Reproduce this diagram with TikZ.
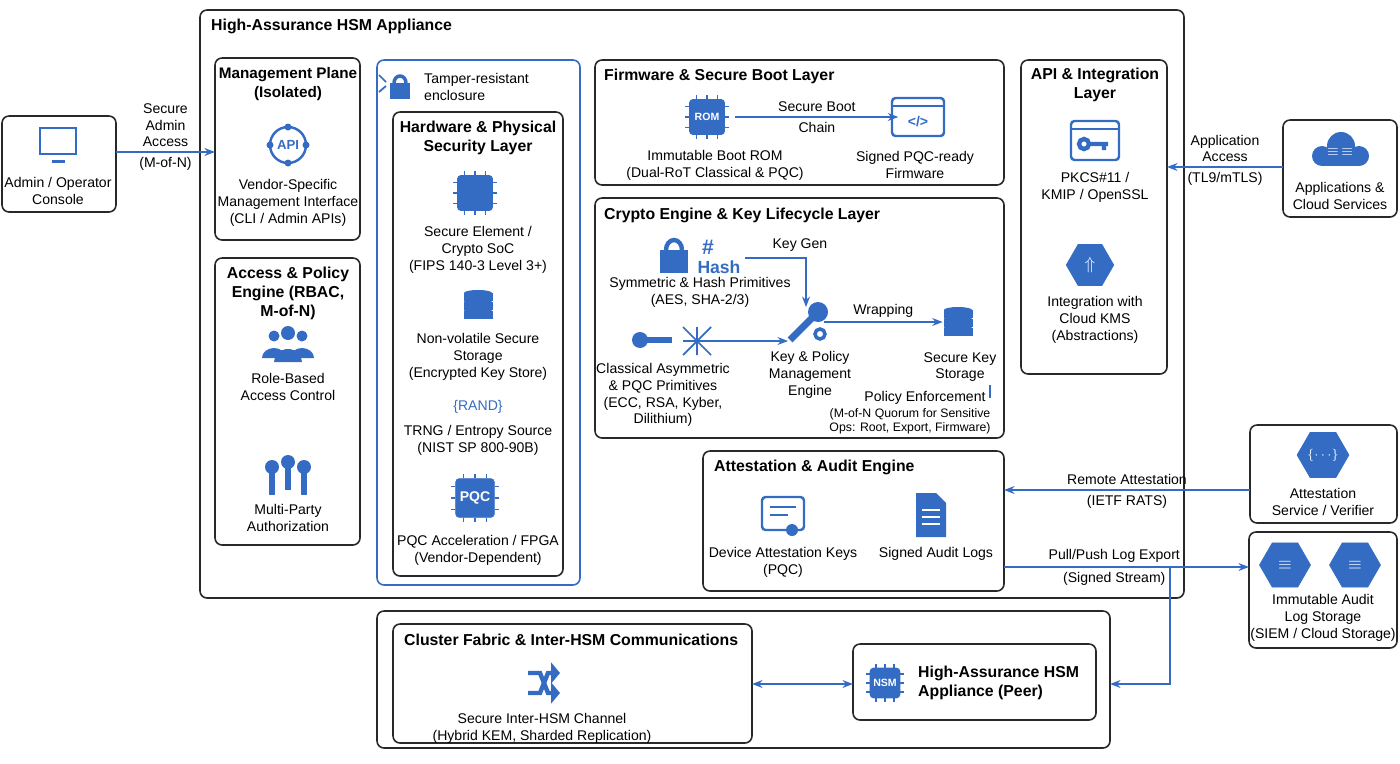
\documentclass[tikz,border=0pt]{standalone}
\usepackage{fontspec}
\setmainfont{Liberation Sans}
\usetikzlibrary{arrows.meta,positioning,shapes.geometric,calc}
\definecolor{hsmblue}{RGB}{52,108,196}
\definecolor{hsmline}{RGB}{40,40,40}
\tikzset{
  box/.style={draw=hsmline,line width=0.9pt,rounded corners=4pt},
  ttl/.style={font=\bfseries\fontsize{9}{10.8}\selectfont,align=center},
  txt/.style={font=\fontsize{8}{9.6}\selectfont,align=center},
  sml/.style={font=\fontsize{7}{8}\selectfont,align=center},
  ic/.style={fill=hsmblue,draw=hsmblue},
  icw/.style={draw=hsmblue,line width=1.4pt},
  hex/.style={regular polygon,regular polygon sides=6,ic,inner sep=0,text=white},
  link/.style={draw=hsmblue,line width=0.9pt,-{Stealth[length=6pt]}},
}
% chip icon
\newcommand{\chipicon}[3]{%
  \node[ic,minimum size=#3,rounded corners=2pt] (#1) at #2 {};
  \foreach \k in {-0.3,0,0.3}{
    \draw[icw,line width=1pt] ([xshift=\k*#3]#1.north) -- ++(0,-4);
    \draw[icw,line width=1pt] ([xshift=\k*#3]#1.south) -- ++(0,4);
    \draw[icw,line width=1pt] ([yshift=-\k*#3]#1.west) -- ++(-4,0);
    \draw[icw,line width=1pt] ([yshift=-\k*#3]#1.east) -- ++(4,0);}}
% database icon
\newcommand{\dbicon}[2]{%
  \foreach \k in {0,1,2}{\draw[ic] ($#2+(-14,-12+\k*9)$) rectangle ($#2+(14,-5+\k*9)$);
    \fill[hsmblue] ($#2+(0,-12+\k*9)$) ellipse (14 and 3);}
  \node[inner sep=0,minimum size=17] (#1) at #2 {};}
\begin{document}
\begin{tikzpicture}[x=0.02cm,y=-0.02cm]
\useasboundingbox (0,0) rectangle (1400,764);

% boxes
\draw[box] (200,10) rectangle (1184,598);
\node[ttl,anchor=west] at (205,26) {High-Assurance HSM Appliance};
\draw[box] (2,116) rectangle (116,212);
\draw[box] (215,58) rectangle (360,240);
\draw[box] (215,258) rectangle (360,545);
\draw[draw=hsmblue,line width=0.9pt,rounded corners=4pt] (377,60) rectangle (580,585);
\draw[box] (393,112) rectangle (563,576);
\draw[box] (595,60) rectangle (1004,185);
\draw[box] (595,198) rectangle (1004,438);
\draw[box] (1021,60) rectangle (1167,374);
\draw[box] (1283,120) rectangle (1397,217);
\draw[box] (703,451) rectangle (1004,591);
\draw[box] (1250,425) rectangle (1397,523);
\draw[box] (1249,532) rectangle (1397,648);
\draw[box] (377,611) rectangle (1110,748);
\draw[box] (393,624) rectangle (752,743);
\draw[box] (853,644) rectangle (1096,720);

% admin console
\draw[icw] (40,128) rectangle (76,154);
\draw[ic] (52,160) rectangle (64,162);
\node[inner sep=0,minimum size=20] (mon) at (58,145) {};
\node[txt] at (58,191) {Admin / Operator\\Console};

% management plane
\node[ttl,font=\bfseries\fontsize{8.7}{10.6}\selectfont] at (288,84) {Management Plane\\(Isolated)};
\draw[icw] (288,145) circle (18);
\foreach \a in {0,90,180,270}{\fill[hsmblue] (288,145) ++(\a:-18) circle (3.5);}
\node[text=hsmblue,font=\bfseries\fontsize{7.5}{8}\selectfont] (api) at (288,145) {API};
\node[txt] at (288,203) {Vendor-Specific\\Management Interface\\(CLI / Admin APIs)};

% access & policy
\node[ttl] at (288,293) {Access \& Policy\\Engine (RBAC,\\M-of-N)};
\fill[hsmblue] (274,336) circle (5.5) (302,336) circle (5.5) (288,333) circle (7);
\fill[hsmblue] (262,358) arc (180:360:12 and 10) -- cycle;
\fill[hsmblue] (290,358) arc (180:360:12 and 10) -- cycle;
\fill[hsmblue] (274,362) arc (180:360:14 and 13) -- cycle;
\node[txt] at (288,387) {Role-Based\\Access Control};
\foreach \dx/\dy in {-16/5,0/0,16/5}{
  \fill[hsmblue] ({288+\dx},{462+\dy}) circle (7);
  \draw[icw,line width=3pt] ({288+\dx},{468+\dy}) -- ++(0,22);}
\node[txt] at (288,518) {Multi-Party\\Authorization};

% tamper
\draw[icw,line width=2pt] (394,83) arc (180:360:6 and 7);
\fill[hsmblue] (390,83) rectangle (410,99);
\draw[icw,line width=1pt] (379,75) -- (386,82) (379,92) -- (386,86);
\node[txt,anchor=west,align=left] at (418,87) {Tamper-resistant\\enclosure};

% hardware
\node[ttl] at (478,138) {Hardware \& Physical\\Security Layer};
\chipicon{se}{(475,193)}{20}
\node[txt] at (478,250) {Secure Element /\\Crypto SoC\\(FIPS 140-3 Level 3+)};
\dbicon{nvs}{(478,305)}
\node[txt] at (478,357) {Non-volatile Secure\\Storage\\(Encrypted Key Store)};
\node[text=hsmblue,font=\fontsize{8}{9}\selectfont] (rand) at (478,407) {\{RAND\}};
\node[txt] at (478,440) {TRNG / Entropy Source\\(NIST SP 800-90B)};
\chipicon{pqc}{(475,498)}{22}
\node[text=white,font=\bfseries\fontsize{8}{9}\selectfont] at (475,498) {PQC};
\node[txt] at (478,550) {PQC Acceleration / FPGA\\(Vendor-Dependent)};

% firmware
\node[ttl,anchor=west] at (598,76) {Firmware \& Secure Boot Layer};
\chipicon{rom}{(707,117)}{20}
\node[text=white,font=\bfseries\fontsize{6}{7}\selectfont] at (707,117) {ROM};
\node[txt] at (715,165) {Immutable Boot ROM\\(Dual-RoT Classical \& PQC)};
\draw[icw,rounded corners=2pt] (892,98) rectangle (944,136);
\draw[icw] (892,106) -- (944,106);
\node[text=hsmblue,font=\bfseries\fontsize{8}{9}\selectfont] at (918,122) {</>};
\node[inner sep=0,minimum size=22] (fw) at (918,117) {};
\node[txt] at (915,165) {Signed PQC-ready\\Firmware};
\draw[link] ([xshift=6]rom.east) -- (fw.west) node[txt,midway,above=-1pt] {Secure Boot} node[txt,midway,below=-1pt] {Chain};

% crypto
\node[ttl,anchor=west] at (598,215) {Crypto Engine \& Key Lifecycle Layer};
\draw[icw,line width=2.5pt] (666,250) arc (180:360:8 and 10);
\fill[hsmblue] (660,250) rectangle (688,273);
\node[text=hsmblue,font=\bfseries\fontsize{12}{12}\selectfont] at (708,247) {\#};
\node[text=hsmblue,font=\bfseries\fontsize{10}{11}\selectfont] (hash) at (719,267) {Hash};
\node[txt] at (700,292) {Symmetric \& Hash Primitives\\(AES, SHA-2/3)};
\fill[hsmblue] (640,340) circle (8);
\draw[icw,line width=3pt] (646,340) -- (672,340);
\draw[icw,line width=1pt] (683,327) -- (711,355) (683,355) -- (711,327) (683,341) -- (711,341) (697,327) -- (697,355);
\node[inner sep=0,minimum size=16] (net) at (697,341) {};
\node[txt] at (663,395) {Classical Asymmetric\\\& PQC Primitives\\(ECC, RSA, Kyber,\\Dilithium)};
\fill[hsmblue] (818,312) circle (10);
\draw[icw,line width=4pt] (812,318) -- (790,340);
\draw[icw,line width=2pt,fill=white] (820,334) circle (5);
\node[inner sep=0,minimum size=20] (kpm) at (806,325) {};
\node[txt] at (810,375) {Key \& Policy\\Management\\Engine};
\dbicon{sks}{(958,322)}
\node[txt] at (960,367) {Secure Key\\Storage};
\coordinate (kg) at (745,258);
\draw[link] (kg) -| (kpm.north) node[txt,pos=0.45,above=0pt] {Key Gen};
\draw[link] (kpm.east |- sks.west) -- (sks.west) node[txt,midway,above=-1pt] {Wrapping};
\draw[link] (net.east) -- (kpm.west |- net.east);
\draw[hsmblue,line width=0.8pt] (990,385) -- (990,398);
\node[txt] at (925,398) {Policy Enforcement};
\node[sml] at (910,421) {(M-of-N Quorum for Sensitive\\Ops: Root, Export, Firmware)};

% API
\node[ttl] at (1095,85) {API \& Integration\\Layer};
\draw[icw,rounded corners=2pt] (1071,121) rectangle (1119,160);
\draw[icw] (1071,129) -- (1119,129);
\draw[icw,line width=2.5pt] (1084,144) circle (5) (1090,144) -- (1108,144) (1104,144) -- (1104,150);
\node[inner sep=0,minimum size=22] (apik) at (1095,140) {};
\node[txt] at (1095,187) {PKCS\#11 /\\KMIP / OpenSSL};
\node[hex,minimum size=27] (kms) at (1090,265) {};
\node[text=white,font=\bfseries] at (1090,265) {$\Uparrow$};
\node[txt] at (1095,320) {Integration with\\Cloud KMS\\(Abstractions)};

% apps
\fill[hsmblue] (1322,156) circle (10) (1341,146) circle (14) (1359,156) circle (10);
\fill[hsmblue] (1322,150) rectangle (1359,166);
\node[text=white,font=\fontsize{8}{8}\selectfont] (cld) at (1340,152) {$\equiv\,\equiv$};
\node[txt] at (1340,196) {Applications \&\\Cloud Services};
\draw[link] (1283,167) -- (1167,167) node[txt,midway,above=-1pt] {Application\\Access} node[txt,midway,below=-1pt] {(TL9/mTLS)};
\draw[link] (116,152) -- (215,152) node[txt,midway,above=-1pt] {Secure\\Admin\\Access} node[txt,midway,below=-1pt] {(M-of-N)};

% attestation engine
\node[ttl,anchor=west] at (708,467) {Attestation \& Audit Engine};
\draw[icw,rounded corners=2pt] (762,497) rectangle (804,530);
\draw[icw] (770,507) -- (796,507) (770,515) -- (788,515);
\fill[hsmblue] (792,530) circle (6);
\node[txt] at (783,562) {Device Attestation Keys\\(PQC)};
\fill[hsmblue] (916,493) -- (936,493) -- (946,503) -- (946,537) -- (916,537) -- cycle;
\draw[white,line width=1.2pt] (922,510) -- (940,510) (922,517) -- (940,517) (922,524) -- (940,524);
\node[txt] at (936,554) {Signed Audit Logs};

% attestation service
\node[hex,minimum size=29,font=\bfseries\fontsize{7}{8}\selectfont] (avs) at (1323,455) {$\{\cdots\}$};
\node[txt] at (1323,502) {Attestation\\Service / Verifier};
\draw[link] (1250,490) -- (1004,490) node[txt,midway,above=-1pt] {Remote Attestation} node[txt,midway,below=-1pt] {(IETF RATS)};

% storage
\node[hex,minimum size=29] (st1) at (1285,565) {$\equiv$};
\node[hex,minimum size=29] (st2) at (1355,565) {$\equiv$};
\node[txt] at (1323,618) {Immutable Audit\\Log Storage\\(SIEM / Cloud Storage)};
\draw[link] (1004,567) -- (1249,567) node[txt,pos=0.45,above=-1pt] {Pull/Push Log Export} node[txt,pos=0.45,below=-1pt] {(Signed Stream)};
\coordinate (tap) at (1170,567);
\draw[link] (tap) |- (1110,684);

% cluster
\node[ttl,anchor=west] at (398,640) {Cluster Fabric \& Inter-HSM Communications};
\draw[icw,line width=2.5pt,-{Triangle[length=5pt]}] (528,673) -- (540,673) -- (548,693) -- (560,693);
\draw[icw,line width=2.5pt,-{Triangle[length=5pt]}] (528,693) -- (540,693) -- (548,673) -- (560,673);
\node[inner sep=0,minimum size=17] (shf) at (542,683) {};
\node[txt] at (542,728) {Secure Inter-HSM Channel\\(Hybrid KEM, Sharded Replication)};
\chipicon{nsm}{(885,683)}{17}
\node[text=white,font=\bfseries\fontsize{6}{7}\selectfont] at (885,683) {NSM};
\node[ttl,anchor=west,align=left] at (912,683) {High-Assurance HSM\\Appliance (Peer)};
\draw[link,{Stealth[length=6pt]}-{Stealth[length=6pt]}] (752,684) -- (853,684);
\end{tikzpicture}
\end{document}
